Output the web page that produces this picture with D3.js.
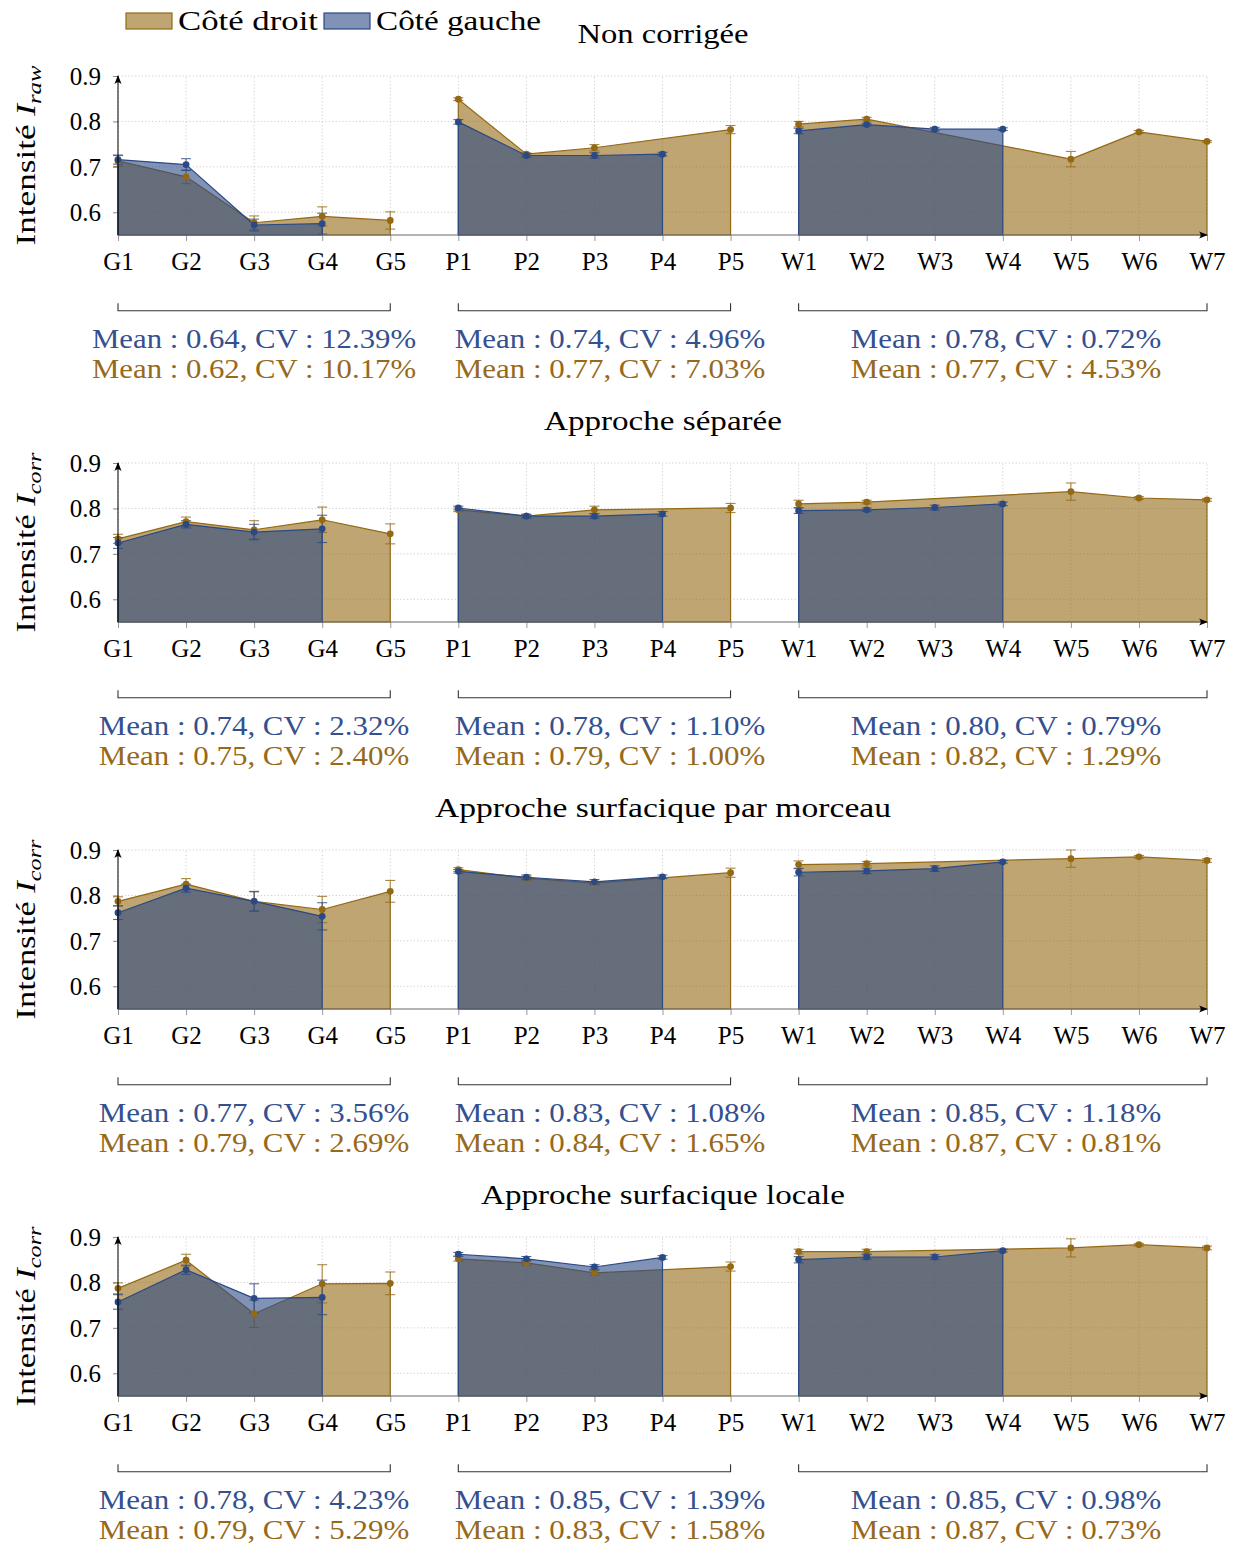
<!DOCTYPE html>
<html><head><meta charset="utf-8">
<script src="https://cdn.jsdelivr.net/npm/d3@7"></script>
<style>
body{margin:0;background:#fff}
svg{display:block}
text{font-family:"Liberation Serif","Times New Roman",serif}
</style>
</head><body>
<svg id="chart" width="1237" height="1547"></svg>
<script>
// ---------------- DATA ----------------
const categories = ["G1","G2","G3","G4","G5","P1","P2","P3","P4","P5","W1","W2","W3","W4","W5","W6","W7"];
const groupRanges = [["G1","G5"],["P1","P5"],["W1","W7"]];
const yTicks = [0.6, 0.7, 0.8, 0.9];
const yDomain = [0.55, 0.9];
const seriesNames = ["Côté droit", "Côté gauche"];
const panelTitles = ["Non corrigée", "Approche séparée", "Approche surfacique par morceau", "Approche surfacique locale"];
const yLabelSubs = ["raw", "corr", "corr", "corr"];

// Côté droit (values, null = no measurement)
const droitValues = [
  [0.713,0.678,0.577,0.591,0.582, 0.849,0.728,0.742,null,0.782, 0.794,0.805,null,null,0.717,0.777,0.756],
  [0.733,0.771,0.753,0.775,0.744, 0.797,0.783,0.797,null,0.801, 0.810,0.814,null,null,0.837,0.823,0.819],
  [0.787,0.825,0.787,0.769,0.809, 0.857,0.838,0.827,null,0.850, 0.868,0.870,null,null,0.881,0.885,0.877],
  [0.787,0.849,0.731,0.797,0.798, 0.852,0.843,0.821,null,0.835, 0.868,0.868,null,null,0.876,0.883,0.876]
];
const droitErrors = [
  [0.012,0.015,0.015,0.021,0.019, 0.003,0.003,0.007,null,0.009, 0.006,0.004,null,null,0.017,0.003,0.002],
  [0.010,0.010,0.020,0.028,0.022, 0.004,0.004,0.008,null,0.010, 0.008,0.004,null,null,0.019,0.003,0.003],
  [0.010,0.012,0.022,0.029,0.024, 0.004,0.004,0.004,null,0.010, 0.008,0.005,null,null,0.019,0.003,0.004],
  [0.012,0.013,0.030,0.042,0.025, 0.005,0.005,0.005,null,0.010, 0.005,0.005,null,null,0.020,0.003,0.004]
];
// Côté gauche
const gaucheValues = [
  [0.716,0.705,0.572,0.575,null, 0.799,0.725,0.725,0.728,null, 0.779,0.793,0.783,0.783,null,null,null],
  [0.724,0.765,0.748,0.755,null, 0.801,0.783,0.783,0.788,null, 0.795,0.797,0.802,0.810,null,null,null],
  [0.762,0.816,0.787,0.754,null, 0.853,0.840,0.830,0.841,null, 0.851,0.854,0.859,0.874,null,null,null],
  [0.757,0.828,0.765,0.767,null, 0.862,0.852,0.834,0.855,null, 0.850,0.856,0.856,0.870,null,null,null]
];
const gaucheErrors = [
  [0.010,0.013,0.013,0.023,null, 0.005,0.004,0.006,0.004,null, 0.006,0.003,0.004,0.003,null,null,null],
  [0.012,0.008,0.017,0.030,null, 0.004,0.004,0.005,0.005,null, 0.006,0.004,0.005,0.004,null,null,null],
  [0.015,0.009,0.021,0.030,null, 0.004,0.005,0.005,0.004,null, 0.008,0.006,0.006,0.003,null,null,null],
  [0.016,0.010,0.032,0.038,null, 0.004,0.005,0.005,0.004,null, 0.007,0.005,0.005,0.003,null,null,null]
];
// Summary statistics per group [mean, CV%]
const gaucheMeans = [["0.64","0.74","0.78"],["0.74","0.78","0.80"],["0.77","0.83","0.85"],["0.78","0.85","0.85"]];
const gaucheCVs   = [["12.39","4.96","0.72"],["2.32","1.10","0.79"],["3.56","1.08","1.18"],["4.23","1.39","0.98"]];
const droitMeans  = [["0.62","0.77","0.77"],["0.75","0.79","0.82"],["0.79","0.84","0.87"],["0.79","0.83","0.87"]];
const droitCVs    = [["10.17","7.03","4.53"],["2.40","1.00","1.29"],["2.69","1.65","0.81"],["5.29","1.58","0.73"]];

// ---------------- STYLE / LAYOUT ----------------
const COL = {
  droit: "#946914", gauche: "#2b4984",
  droitText: "#97691a", gaucheText: "#34508f",
  grid: "#c8c8c8"
};
const L = {
  panelStep: 387, plotTop: 76, plotBottom: 235, xLeft: 118, xRight: 1207,
  titleY: 43, titleX: 663, tickLabelY: 270, yTickLabelX: 101,
  bracketY: 310.7, bracketUp: 7.4, statY1: 348, statY2: 378,
  statCenters: [254, 610, 1006], charW: 13.5,
  titleWidths: [171, 238, 456, 364],
  fsTick: 25, fsText: 28, fsTitle: 28, fsYLabel: 27, yLabelX: 35, yLabelW: 180
};

const svg = d3.select("#chart");
const defs = svg.append("defs");
defs.append("marker").attr("id","arrow").attr("viewBox","0 0 10 10").attr("refX",9).attr("refY",5)
  .attr("markerWidth",9).attr("markerHeight",9).attr("markerUnits","userSpaceOnUse").attr("orient","auto")
  .append("path").attr("d","M0,1 Q4,5 0,9 L10,5 Z").attr("fill","#000");

const x = d3.scalePoint().domain(categories).range([L.xLeft, L.xRight]);

// ---------------- LEGEND ----------------
const legend = svg.append("g");
[[126, 178, 140, COL.droit, seriesNames[0]], [324, 376, 165, COL.gauche, seriesNames[1]]].forEach(([rx, tx, tw, c, name]) => {
  legend.append("rect").attr("x", rx).attr("y", 13).attr("width", 46).attr("height", 16)
    .attr("fill", c).attr("fill-opacity", 0.6).attr("stroke", c).attr("stroke-width", 1.2);
  legend.append("text").attr("x", tx).attr("y", 30).attr("font-size", L.fsText)
    .attr("textLength", tw).attr("lengthAdjust", "spacingAndGlyphs").text(name);
});

// ---------------- PANELS ----------------
panelTitles.forEach((title, p) => {
  const dy = p * L.panelStep;
  const g = svg.append("g");
  const y = d3.scaleLinear().domain(yDomain).range([L.plotBottom + dy, L.plotTop + dy]);
  const y0 = y(yDomain[0]);

  // title
  g.append("text").attr("x", L.titleX).attr("y", L.titleY + dy).attr("text-anchor", "middle")
    .attr("font-size", L.fsTitle).attr("textLength", L.titleWidths[p]).attr("lengthAdjust", "spacingAndGlyphs")
    .text(title);

  // grid
  const grid = g.append("g").attr("stroke", COL.grid).attr("stroke-width", 0.9).attr("stroke-dasharray", "1.2,2.2");
  yTicks.forEach(t => grid.append("line").attr("x1", L.xLeft).attr("x2", L.xRight).attr("y1", y(t)).attr("y2", y(t)));
  categories.forEach(c => grid.append("line").attr("x1", x(c)).attr("x2", x(c)).attr("y1", y0).attr("y2", y(0.9)));

  // y axis (ticks + labels) via d3.axisLeft
  const yAxis = g.append("g").attr("transform", `translate(${L.xLeft},0)`)
    .call(d3.axisLeft(y).tickValues(yTicks).tickSize(5).tickFormat(d3.format(".1f")));
  yAxis.select(".domain").remove();
  yAxis.selectAll(".tick line").attr("stroke", "#888");
  yAxis.selectAll(".tick text").attr("font-size", L.fsTick).attr("font-family", '"Liberation Serif",serif')
    .attr("fill", "#000").attr("x", L.yTickLabelX - L.xLeft).attr("dy", "0.34em");

  // x axis ticks + labels
  const xAxis = g.append("g").attr("transform", `translate(0,${y0})`)
    .call(d3.axisBottom(x).tickSize(6).tickPadding(0));
  xAxis.select(".domain").remove();
  xAxis.selectAll(".tick line").attr("stroke", "#999");
  xAxis.selectAll(".tick text").attr("font-size", L.fsTick).attr("font-family", '"Liberation Serif",serif')
    .attr("fill", "#000").attr("y", L.tickLabelY + dy - y0).attr("dy", 0);

  // series plots
  const series = [
    {vals: droitValues[p], errs: droitErrors[p], c: COL.droit},
    {vals: gaucheValues[p], errs: gaucheErrors[p], c: COL.gauche}
  ];
  const area = d3.area().x(d => x(d.cat)).y0(y0).y1(d => y(d.v));
  series.forEach(s => {
    const pts = categories.map((cat, i) => ({cat, i, v: s.vals[i], e: s.errs[i]})).filter(d => d.v !== null);
    groupRanges.forEach(([a, b]) => {
      const ia = categories.indexOf(a), ib = categories.indexOf(b);
      const seg = pts.filter(d => d.i >= ia && d.i <= ib);
      if (seg.length < 2) return;
      g.append("path").attr("d", area(seg)).attr("fill", s.c).attr("fill-opacity", 0.6)
        .attr("stroke", s.c).attr("stroke-width", 1.2).attr("stroke-linejoin", "round");
    });
    const eb = g.append("g").attr("stroke", s.c).attr("stroke-width", 1.1).attr("stroke-opacity", 0.8);
    pts.forEach(d => {
      const xx = x(d.cat), yt = y(d.v + d.e), yb = y(d.v - d.e);
      eb.append("line").attr("x1", xx).attr("x2", xx).attr("y1", yt).attr("y2", yb);
      eb.append("line").attr("x1", xx - 5).attr("x2", xx + 5).attr("y1", yt).attr("y2", yt);
      eb.append("line").attr("x1", xx - 5).attr("x2", xx + 5).attr("y1", yb).attr("y2", yb);
    });
  });
  // markers on top
  series.forEach(s => {
    const pts = categories.map((cat, i) => ({cat, v: s.vals[i]})).filter(d => d.v !== null);
    g.append("g").selectAll("circle").data(pts).join("circle")
      .attr("cx", d => x(d.cat)).attr("cy", d => y(d.v)).attr("r", 3.4).attr("fill", s.c);
  });

  // axis lines with arrows
  g.append("line").attr("x1", L.xLeft).attr("x2", L.xRight).attr("y1", y0).attr("y2", y0)
    .attr("stroke", "#6a6a6a").attr("stroke-width", 1.2).attr("marker-end", "url(#arrow)");
  g.append("line").attr("x1", L.xLeft).attr("x2", L.xLeft).attr("y1", y0).attr("y2", y(0.9))
    .attr("stroke", "#000").attr("stroke-width", 1).attr("marker-end", "url(#arrow)");

  // y label
  const yl = g.append("g").attr("transform", `translate(${L.yLabelX},${(L.plotTop + L.plotBottom) / 2 + dy}) rotate(-90)`);
  const ylt = yl.append("text").attr("text-anchor", "middle").attr("font-size", L.fsYLabel);
  ylt.append("tspan").text("Intensité ");
  ylt.append("tspan").attr("font-style", "italic").text("I");
  ylt.append("tspan").attr("font-style", "italic").attr("font-size", 19).attr("dy", 6).text(yLabelSubs[p]);
  const w = ylt.node().getComputedTextLength();
  if (w > 0) ylt.attr("transform", `scale(${L.yLabelW / w},1)`);

  // brackets + statistics
  groupRanges.forEach(([a, b], k) => {
    const xa = x(a), xb = x(b), by = L.bracketY + dy;
    g.append("path").attr("d", `M${xa},${by - L.bracketUp}V${by}H${xb}V${by - L.bracketUp}`)
      .attr("fill", "none").attr("stroke", "#333").attr("stroke-width", 1.1);
    const t1 = `Mean : ${gaucheMeans[p][k]}, CV : ${gaucheCVs[p][k]}%`;
    const t2 = `Mean : ${droitMeans[p][k]}, CV : ${droitCVs[p][k]}%`;
    [[t1, L.statY1, COL.gaucheText], [t2, L.statY2, COL.droitText]].forEach(([t, ty, c]) => {
      g.append("text").attr("x", L.statCenters[k]).attr("y", ty + dy).attr("text-anchor", "middle")
        .attr("font-size", L.fsText).attr("fill", c)
        .attr("textLength", t.length * L.charW).attr("lengthAdjust", "spacingAndGlyphs").text(t);
    });
  });
});
</script>
</body></html>
